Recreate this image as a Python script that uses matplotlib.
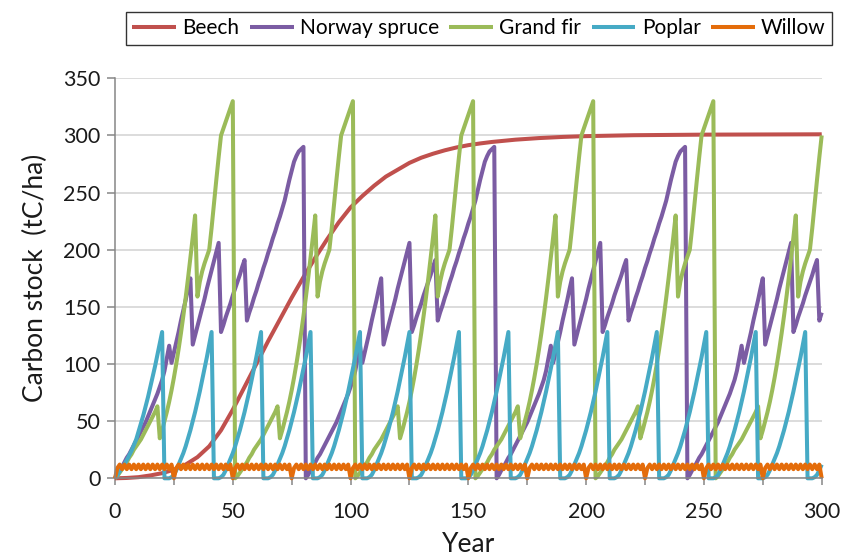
import numpy as np
import matplotlib
matplotlib.use("Agg")
import matplotlib.pyplot as plt

plt.rcParams["font.family"] = ["Lato", "DejaVu Sans"]

# ---------------------------------------------------------------- data
years = np.arange(0, 301)

# Beech: continuous growth without harvest
beech_years = [0, 5, 10, 15, 20, 25, 30, 35, 40, 45, 50, 55, 60, 65, 70, 75, 80,
               85, 90, 95, 100, 105, 110, 115, 120, 125, 130, 135, 140, 145, 150,
               155, 160, 170, 180, 190, 200, 220, 250, 300]
beech_stock = [0, 0.3, 1, 2.5, 4.5, 7.5, 12, 18.5, 28, 42, 60, 80, 100, 120, 139,
               158, 176, 193, 209, 224, 237, 247, 256, 264, 270, 276, 280.5, 284,
               287, 289.5, 291.5, 293, 294.3, 296.3, 297.7, 298.7, 299.4, 300.2,
               300.7, 301]

# Norway spruce: stock by year within an 81-year rotation (with thinnings)
spruce_rotation = [0, 3, 7, 10, 14, 18, 21, 25, 29, 33, 37, 41, 45, 49, 54, 59,
                   64, 69, 74, 80, 86, 94, 105, 116, 101, 110, 119, 128, 138, 147,
                   156, 166, 175, 117, 125, 133, 141, 149, 157, 166, 174, 182, 190,
                   198, 206, 128, 134, 141, 147, 153, 160, 166, 172, 178, 185, 191,
                   138, 145, 151, 158, 164, 171, 177, 184, 190, 197, 203, 210, 216,
                   223, 229, 236, 243, 252, 261, 269, 277, 282, 286, 288, 290]
spruce_starts = [0, 81, 162, 243]

# Grand fir: 51-year rotation
fir_rotation = [0, 2, 5, 8, 11, 14, 18, 21, 25, 28, 31, 34, 38, 42, 46, 50, 54, 58,
                63, 35, 42, 50, 58, 67, 77, 88, 100, 113, 127, 142, 158, 175, 193,
                211, 230, 159, 172, 181, 188, 194, 200, 219, 240, 261, 281, 300,
                306, 312, 318, 324, 330]
fir_starts = [0, 51, 102, 153, 204, 255]

# Poplar: 21-year coppice rotation, first rotation planted on bare land
poplar_first = [0, 3, 6, 9, 12, 16, 20, 24, 29, 34, 41, 48, 55, 63, 71, 80, 89, 98,
                108, 118, 128]
poplar_rotation = [0, 0, 0, 1, 3, 7, 12, 17, 22, 28, 35, 42, 50, 58, 67, 76, 86, 96,
                   106, 117, 128]
poplar_starts = [21, 42, 63, 84, 105, 126, 147, 168, 189, 210, 231, 252, 273, 294]

# Willow: short-rotation coppice, replanted every 25 years
willow_rotation = [0, 9, 12, 8, 12, 8, 12, 8, 12, 8, 12, 8, 12, 8, 12, 8, 12, 8, 12,
                   8, 12, 8, 12, 8, 12]
willow_starts = [0, 25, 50, 75, 100, 125, 150, 175, 200, 225, 250, 275, 300]

species = ["Beech", "Norway spruce", "Grand fir", "Poplar", "Willow"]
colors = ["#C0504D", "#7B5CA3", "#9BBB59", "#46AAC5", "#E46C0A"]


def build_series(profile, starts, first=None):
    """Lay rotation profiles end to end along the year axis."""
    out = np.full(years.shape, np.nan)
    if first is not None:
        out[:len(first)] = first
    for s in starts:
        n = min(len(profile), len(years) - s)
        out[s:s + n] = profile[:n]
    return out


spruce = build_series(spruce_rotation, spruce_starts)
fir = build_series(fir_rotation, fir_starts)
poplar = build_series(poplar_rotation, poplar_starts, first=poplar_first)
willow = build_series(willow_rotation, willow_starts)

# ---------------------------------------------------------------- figure
fig = plt.figure(figsize=(8.44, 5.57), dpi=100)
ax = fig.add_axes([115 / 844, 1 - 478.3 / 557, 706.7 / 844, 400 / 557])

lw = 2.9
line_kw = dict(lw=lw, solid_joinstyle="round", solid_capstyle="butt", clip_on=False)
ax.plot(beech_years, beech_stock, color=colors[0], label=species[0], **line_kw)
ax.plot(years, spruce, color=colors[1], label=species[1], **line_kw)
ax.plot(years, fir, color=colors[2], label=species[2], **line_kw)
ax.plot(years, poplar, color=colors[3], label=species[3], **line_kw)
ax.plot(years, willow, color=colors[4], label=species[4], **line_kw)

ax.set_xlim(0, 300)
ax.set_ylim(0, 350)
ax.set_xticks(np.arange(0, 301, 50))
ax.set_xticks(np.arange(0, 301, 25), minor=True)
ax.set_yticks(np.arange(0, 351, 50))

ax.yaxis.grid(True, color="#D9D9D9", lw=1.3)
ax.set_axisbelow(True)
for side in ("top", "right"):
    ax.spines[side].set_visible(False)
for side in ("left", "bottom"):
    ax.spines[side].set_color("#868686")
    ax.spines[side].set_linewidth(1.1)

ax.tick_params(axis="x", which="both", direction="out", length=5, width=1.1,
               color="#868686", labelsize=15.5, pad=12, labelcolor="#1a1a1a")
ax.tick_params(axis="y", direction="out", length=5.5, width=1.1,
               color="#868686", labelsize=15.5, pad=5, labelcolor="#1a1a1a")

ax.set_xlabel("Year", fontsize=19, labelpad=7, color="#1a1a1a")
ax.set_ylabel("Carbon stock  (tC/ha)", fontsize=19, labelpad=11, color="#1a1a1a")

leg = fig.legend(loc="upper center", bbox_to_anchor=(479 / 844, 1 - 12 / 557),
                 ncol=5, fontsize=15, frameon=True, fancybox=False,
                 handlelength=2.1, handletextpad=0.3, columnspacing=0.5,
                 borderpad=0.3, borderaxespad=0)
leg.get_frame().set_edgecolor("black")
leg.get_frame().set_linewidth(1.0)
for line in leg.get_lines():
    line.set_linewidth(lw)

fig.savefig("out.png", dpi=100)
